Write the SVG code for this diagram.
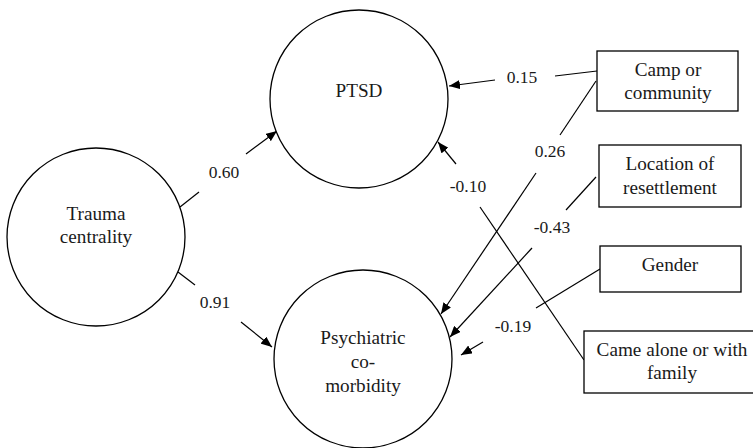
<svg xmlns="http://www.w3.org/2000/svg" width="753" height="448" viewBox="0 0 753 448">
<style>
  .node { fill: #fff; stroke: #000; stroke-width: 1.3; }
  .box { fill: #fff; stroke: #000; stroke-width: 1.3; }
  text { font-family: "Liberation Serif", "Times New Roman", serif; fill: #1a1a1a; text-anchor: middle; }
  .t { font-size: 19.2px; }
  .n { font-size: 17.5px; }
  .c { stroke: #000; stroke-width: 1.2; fill: none; }
  .a { stroke: #000; stroke-width: 1.2; fill: none; marker-end: url(#arr); }
</style>
<defs>
  <marker id="arr" markerUnits="userSpaceOnUse" markerWidth="13" markerHeight="9" refX="11" refY="4.5" orient="auto">
    <path d="M0,0 L11,4.5 L0,9 Z" fill="#000"/>
  </marker>
</defs>
<rect width="753" height="448" fill="#fff"/>
<g id="connectors">
  <line class="c" x1="180" y1="207" x2="199" y2="192"/>
  <line class="a" x1="246" y1="154" x2="277" y2="131"/>
  <line class="c" x1="178" y1="272" x2="195" y2="285"/>
  <line class="a" x1="241" y1="322" x2="272" y2="347"/>
  <line class="c" x1="597" y1="71" x2="555" y2="76"/>
  <line class="a" x1="495" y1="80" x2="449" y2="86"/>
  <line class="c" x1="596" y1="81" x2="560" y2="135"/>
  <line class="a" x1="536" y1="173" x2="441" y2="314"/>
  <line class="c" x1="584" y1="360" x2="480" y2="207"/>
  <line class="a" x1="456" y1="164" x2="438" y2="142"/>
  <line class="c" x1="596" y1="177" x2="566" y2="210"/>
  <line class="a" x1="532" y1="248" x2="450" y2="337"/>
  <line class="c" x1="600" y1="269" x2="536" y2="308"/>
  <line class="a" x1="483" y1="342" x2="461" y2="355"/>
  <text class="n" x="224" y="178">0.60</text>
  <text class="n" x="215" y="308">0.91</text>
  <text class="n" x="522" y="83">0.15</text>
  <text class="n" x="550" y="157">0.26</text>
  <text class="n" x="468" y="192">-0.10</text>
  <text class="n" x="552" y="233">-0.43</text>
  <text class="n" x="513" y="332">-0.19</text>
</g>
<g id="ptsd">
  <circle class="node" cx="359" cy="99" r="89"/>
  <text class="t" x="359" y="97">PTSD</text>
</g>
<g id="trauma">
  <circle class="node" cx="96" cy="237" r="89"/>
  <text class="t" x="96" y="220">Trauma</text>
  <text class="t" x="96" y="243">centrality</text>
</g>
<g id="psych">
  <circle class="node" cx="363" cy="359" r="89"/>
  <text class="t" x="363" y="344">Psychiatric</text>
  <text class="t" x="363" y="368">co-</text>
  <text class="t" x="363" y="392">morbidity</text>
</g>
<g id="camp">
  <rect class="box" x="597" y="51" width="141" height="60"/>
  <text class="t" x="668" y="76">Camp or</text>
  <text class="t" x="668" y="99">community</text>
</g>
<g id="location">
  <rect class="box" x="599" y="145" width="142" height="62"/>
  <text class="t" x="670" y="170">Location of</text>
  <text class="t" x="670" y="194">resettlement</text>
</g>
<g id="gender">
  <rect class="box" x="600" y="246" width="141" height="46"/>
  <text class="t" x="670" y="271">Gender</text>
</g>
<g id="came">
  <rect class="box" x="584" y="331" width="176" height="62"/>
  <text class="t" x="672" y="356">Came alone or with</text>
  <text class="t" x="672" y="379">family</text>
</g>
</svg>
